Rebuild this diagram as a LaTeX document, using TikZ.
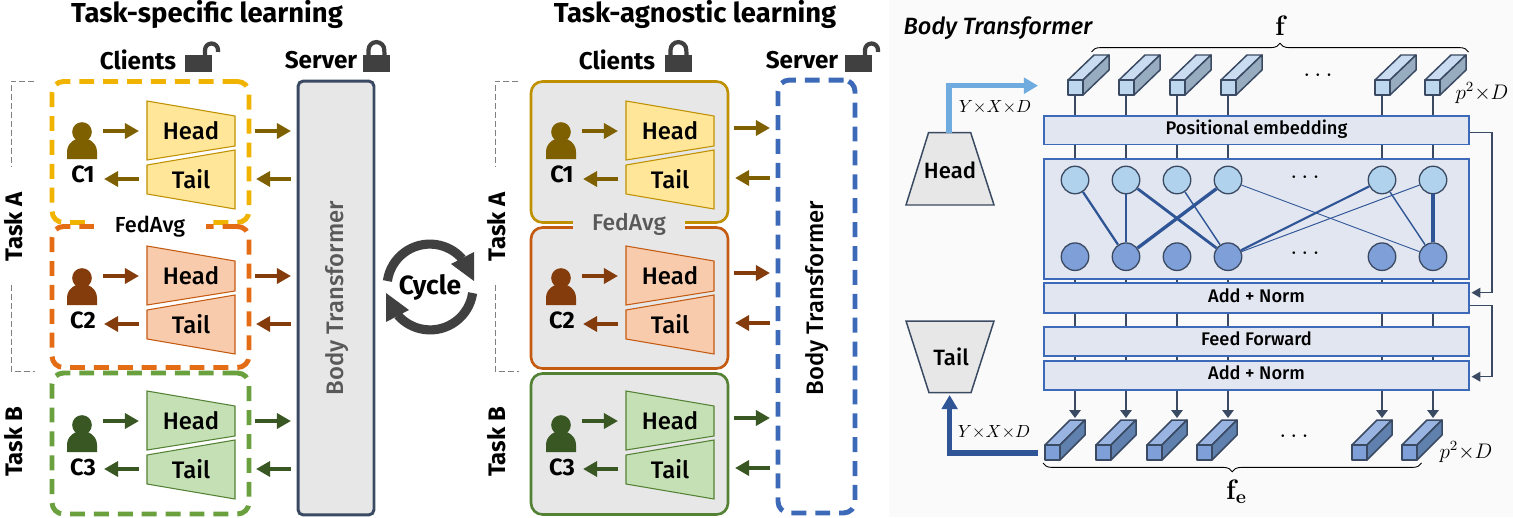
\documentclass[tikz,border=0pt]{standalone}
\usepackage{fontspec}
\setmainfont{Fira Sans Medium}[BoldFont=Fira Sans Bold,ItalicFont=Fira Sans Medium Italic,BoldItalicFont=Fira Sans Medium Italic]
\newfontfamily\serifbf{Latin Modern Roman}
\usetikzlibrary{arrows.meta,decorations.pathreplacing}

\definecolor{inkgray}{HTML}{404040}
\definecolor{slate}{HTML}{3B4A63}
\definecolor{boxgray}{HTML}{E7E7E7}
\definecolor{bandblue}{HTML}{E2E6F0}
\definecolor{lineblue}{HTML}{3C69B8}
\definecolor{edgeblue}{HTML}{2F5597}
\definecolor{arrowsky}{HTML}{70ABDF}
\definecolor{cubefront}{HTML}{BDD7EE}
\definecolor{cubetop}{HTML}{C9DCF0}
\definecolor{cubeside}{HTML}{97ACBF}
\definecolor{cellfront}{HTML}{7F9FD9}
\definecolor{celltop}{HTML}{9AB4E2}
\definecolor{cellside}{HTML}{6080AE}
\definecolor{neuronlite}{HTML}{B0D2EC}
\definecolor{liteA}{HTML}{FFE699}
\definecolor{edgeA}{HTML}{BF9000}
\definecolor{darkA}{HTML}{7F6000}
\definecolor{dashA}{HTML}{F0B400}
\definecolor{liteB}{HTML}{F8CBAD}
\definecolor{edgeB}{HTML}{C55A11}
\definecolor{darkB}{HTML}{843C0C}
\definecolor{dashB}{HTML}{E36C14}
\definecolor{liteC}{HTML}{C5E0B4}
\definecolor{edgeC}{HTML}{548235}
\definecolor{darkC}{HTML}{385723}
\definecolor{dashC}{HTML}{6AA03E}

\tikzset{
  clientbox/.style={minimum width=3.94cm,minimum height=2.82cm,rounded corners=6.5pt,inner sep=0pt},
  dashbox/.style={clientbox,line width=2.8pt,dash pattern=on 8.5pt off 5.1pt},
  solidbox/.style={clientbox,fill=boxgray,line width=1.5pt},
  flow/.style={line width=2.8pt,-{Triangle[width=8.5pt,length=8pt]}},
  trap/.style={line width=0.6pt},
  band/.style={draw=lineblue,fill=bandblue,line width=0.95pt,minimum width=8.5cm,inner sep=0pt,
    text height=6.5pt,text depth=1.5pt,font=\fontsize{10.4}{12}\selectfont},
  wire/.style={draw=slate,line width=0.85pt},
  tipwire/.style={wire,-{Triangle[width=6.5pt,length=4.5pt]}},
  sidewire/.style={wire,-{Triangle[width=5.5pt,length=5pt]}},
  cube/.style={draw=slate,line width=0.85pt,line join=round},
  neuron/.style={circle,draw=slate,line width=0.75pt,minimum size=0.55cm,inner sep=0pt},
  bracket/.style={draw=gray,line width=0.55pt,dash pattern=on 3.4pt off 1.7pt},
  lbl/.style={font=\fontsize{13.6}{15}\selectfont},
  title/.style={font=\fontsize{15.6}{17}\selectfont\bfseries},
  sub/.style={font=\fontsize{13.8}{15}\selectfont\bfseries},
  tasklbl/.style={font=\fontsize{13.6}{15}\selectfont\bfseries,rotate=90},
  dims/.style={font=\fontsize{10}{12}\selectfont},
  patchdims/.style={font=\fontsize{11.5}{13}\selectfont},
  dotrow/.style={font=\fontsize{14}{16}\selectfont},
  locked/.pic={
    \fill [inkgray] (0,0) rectangle (27,17);
    \draw [inkgray,line width=2.4pt] (5.5,1) -- (5.5,-5) arc[start angle=180,end angle=0,radius=4.5pt] -- (21.5,1);
  },
  unlocked/.pic={
    \fill [inkgray] (0,0) rectangle (27,17);
    \draw [inkgray,line width=2.4pt] (20,1) -- (20,-5) arc[start angle=180,end angle=0,radius=3.7pt] -- (33,-3);
  },
}

\begin{document}
\begin{tikzpicture}[x=0.02cm,y=-0.02cm]
  \useasboundingbox (0,0) rectangle (1513,517);
  \fill [white] (0,0) rectangle (1513,517);

  \node (titleL) [title] at (207,14) {Task-specific learning};
  \node (titleM) [title] at (695,14) {Task-agnostic learning};
  \node (clientsL) [sub] at (138,60) {Clients};
  \node (serverL)  [sub] at (321,60) {Server};
  \node (clientsM) [sub] at (617,60) {Clients};
  \node (serverM)  [sub] at (802,60) {Server};
  \pic at (185,55) {unlocked};
  \pic at (363,55) {locked};
  \pic at (665,55) {locked};
  \pic at (845,55) {unlocked};

  \node (taskAL) [tasklbl] at (14,227) {Task A};
  \node (taskBL) [tasklbl] at (14,442) {Task B};
  \node (taskAM) [tasklbl] at (497,227) {Task A};
  \node (taskBM) [tasklbl] at (497,442) {Task B};
  \foreach \bx in {11,495} {
    \draw [bracket] (\bx+23,81) -- (\bx,81) -- (\bx,167);
    \draw [bracket] (\bx,285) -- (\bx,371) -- (\bx+24,371);
  }

  \node (boxA) [dashbox,draw=dashA] at (150.5,152) {};
  \node (boxB) [dashbox,draw=dashB] at (150.5,297) {};
  \node (boxC) [dashbox,draw=dashC] at (150.5,443.5) {};
  \node (fedL) [fill=white,minimum width=2.24cm,minimum height=0.3cm,inner sep=0pt,font=\fontsize{12.4}{14}\selectfont] at (150,227) {FedAvg};
  \node (srvL) [draw=slate,fill=boxgray,line width=1.7pt,rounded corners=3pt,minimum width=1.52cm,minimum height=8.68cm,inner sep=0pt] at (336,298) {};
  \node (srvtextL) [lbl,rotate=90,text=black!65] at (337,298) {Body Transformer};

  \node (boxD) [solidbox,draw=edgeA] at (629.5,152) {};
  \node (boxE) [solidbox,draw=edgeB] at (629.5,298) {};
  \node (boxF) [solidbox,draw=edgeC] at (629.5,444) {};
  \node (fedM) [fill=boxgray,text=black!65,minimum width=2.24cm,minimum height=0.32cm,inner sep=0pt,font=\fontsize{13}{14}\selectfont] at (629,224.5) {FedAvg};
  \node (srvM) [draw=lineblue,line width=2.8pt,dash pattern=on 8.5pt off 5.1pt,rounded corners=6.5pt,minimum width=1.54cm,minimum height=8.66cm,inner sep=0pt] at (816.5,296.5) {};
  \node (srvtextM) [lbl,rotate=90] at (817,298) {Body Transformer};

  \foreach \n/\sx/\sy/\py/\sv/\lite/\edge/\dark/\tag in {
      a/0/0/0/0/liteA/edgeA/darkA/C1, b/0/145/1/0/liteB/edgeB/darkB/C2, c/0/290/3/0/liteC/edgeC/darkC/C3,
      d/479/0/0/-3/liteA/edgeA/darkA/C1, e/479/145/1/-3/liteB/edgeB/darkB/C2, f/479/290/3/-3/liteC/edgeC/darkC/C3} {
    \begin{scope}[shift={(\sx,\sy)}]
      \draw [trap,draw=\edge,fill=\lite] (147,101) -- (235,116) -- (235,146) -- (147,160) -- cycle;
      \draw [trap,draw=\edge,fill=\lite] (147,165) -- (235,150) -- (235,209) -- (147,194) -- cycle;
      \node (head\n) [lbl] at (191,131) {Head};
      \node (tail\n) [lbl] at (191,179) {Tail};
      \fill [\dark] (82,132+\py) circle[radius=5.6pt];
      \fill [\dark] (67,159+\py) -- (67,152+\py) .. controls (67,143+\py) and (75,138+\py) .. (82,138+\py)
        .. controls (89,138+\py) and (97,143+\py) .. (97,152+\py) -- (97,159+\py) -- cycle;
      \node (who\n) [font=\fontsize{13.4}{15}\selectfont\bfseries] at (83,174+\py) {\tag};
      \coordinate (pa\n) at (103,131);
      \coordinate (pb\n) at (139,131);
      \coordinate (qa\n) at (139,179);
      \coordinate (qb\n) at (104,179);
      \coordinate (ra\n) at (255,131+\sv);
      \coordinate (rb\n) at (291,131+\sv);
      \coordinate (sa\n) at (291,179+\sv/3);
      \coordinate (sb\n) at (256,179+\sv/3);
    \end{scope}
    \draw [flow,draw=\dark] (pa\n) -- (pb\n);
    \draw [flow,draw=\dark] (qa\n) -- (qb\n);
    \draw [flow,draw=\dark] (ra\n) -- (rb\n);
    \draw [flow,draw=\dark] (sa\n) -- (sb\n);
  }

  \node (cycle) [font=\fontsize{15}{17}\selectfont\bfseries] at (430,287) {Cycle};
  \draw [inkgray,line width=5.2pt] (472.6,293) arc[start angle=-8,end angle=-139,radius=24.4pt];
  \draw [inkgray,line width=5.2pt] (387.4,281) arc[start angle=172,end angle=41,radius=24.4pt];
  \fill [inkgray] (386,293) -- (386,322) -- (409,310) -- cycle;
  \fill [inkgray] (474,281) -- (474,252) -- (451,264) -- cycle;

  % body panel
  \fill [black!2] (889,0) rectangle (1513,517);
  \node (bodytitle) [font=\fontsize{13.4}{15}\selectfont\itshape] at (998,28) {Body Transformer};

  \draw [slate,line width=0.85pt,fill=boxgray] (928.5,132.7) -- (970.7,132.7) -- (994,205) -- (906,205) -- cycle;
  \draw [slate,line width=0.85pt,fill=boxgray] (906,321) -- (994,321) -- (971,392.7) -- (929,392.7) -- cycle;
  \node (headR) [font=\fontsize{12.6}{14}\selectfont] at (950,170) {Head};
  \node (tailR) [font=\fontsize{12.6}{14}\selectfont] at (951,357) {Tail};

  \node (pos)  [band,minimum height=0.57cm] at (1256.5,130.3) {Positional embedding};
  \node (net)  [band,minimum height=2.4cm,text height=,text depth=] at (1256.5,219) {};
  \node (add)  [band,minimum height=0.6cm] at (1256.5,297.7) {Add + Norm};
  \node (ffn)  [band,minimum height=0.58cm] at (1256.5,341.3) {Feed Forward};
  \node (addb) [band,minimum height=0.58cm] at (1256.5,375.3) {Add + Norm};

  \foreach \i/\x/\u in {1/1075/1068,2/1126/1119,3/1177/1170,4/1228/1221,5/1382/1375,6/1433/1425} {
    \draw [cube,fill=cubetop] (\u,80) -- ++(26,-25) -- ++(15,0) -- ++(-26,25) -- cycle;
    \draw [cube,fill=cubeside] (\u+15,80) -- ++(26,-25) -- ++(0,15) -- ++(-26,25) -- cycle;
    \draw [cube,fill=cubefront] (\u,80) rectangle ++(15,15);
    \coordinate (ct\i) at (\x,95);
    \draw [wire] (ct\i) -- (ct\i |- pos.north);
    \draw [wire] (ct\i |- pos.south) -- (ct\i |- net.north);
    \draw [wire] (ct\i |- net.south) -- (ct\i |- add.north);
    \draw [wire] (ct\i |- add.south) -- (ct\i |- ffn.north);
    \draw [wire] (ct\i |- ffn.south) -- (ct\i |- addb.north);
    \coordinate (cb\i) at (\x,418);
    \draw [tipwire] (ct\i |- addb.south) -- (cb\i);
    \node (t\i) [neuron,fill=neuronlite] at (\x,180) {};
    \node (b\i) [neuron,fill=cellfront] at (\x,256.7) {};
  }
  \foreach \u in {1045,1096,1147,1197,1352,1402} {
    \draw [cube,fill=celltop] (\u,445) -- ++(25,-25) -- ++(15,0) -- ++(-25,25) -- cycle;
    \draw [cube,fill=cellside] (\u+15,445) -- ++(25,-25) -- ++(0,15) -- ++(-25,25) -- cycle;
    \draw [cube,fill=cellfront] (\u,445) rectangle ++(15,15);
  }

  \node (dotsT) [dotrow] at (1318,76) {$\cdots$};
  \node (dotsA) [dotrow] at (1305,178) {$\cdots$};
  \node (dotsB) [dotrow] at (1305,254) {$\cdots$};
  \node (dotsE) [dotrow] at (1294,437) {$\cdots$};

  \draw [edgeblue,line width=1.3pt] (t1) -- (b2);
  \draw [edgeblue,line width=0.7pt] (t2) -- (b2);
  \draw [edgeblue,line width=1.6pt] (t2) -- (b4);
  \draw [edgeblue,line width=0.8pt] (t3) -- (b4);
  \draw [edgeblue,line width=1.9pt] (t4) -- (b2);
  \draw [edgeblue,line width=0.5pt] (t4) -- (b6);
  \draw [edgeblue,line width=1.2pt] (t5) -- (b4);
  \draw [edgeblue,line width=0.55pt] (t6) -- (b4);
  \draw [edgeblue,line width=0.8pt] (t5) -- (b6);
  \draw [edgeblue,line width=2.3pt] (t6) -- (b6);

  \coordinate (hookA) at (1471.5,292.7);
  \coordinate (hookB) at (1471.5,376.7);
  \draw [sidewire] (pos.east |- 0,132.7) -- (1492,132.7) -- (1492,292.7) -- (hookA);
  \draw [sidewire] (add.east |- 0,305.7) -- (1492,305.7) -- (1492,376.7) -- (hookB);

  \coordinate (headtop) at (949,132.7);
  \coordinate (headend) at (1038,85.7);
  \coordinate (tailtip) at (949.6,395);
  \coordinate (tailend) at (1038,453);
  \draw [arrowsky,line width=2.9pt,-{Triangle[width=8.8pt,length=8pt]}] (headtop) |- (headend);
  \draw [edgeblue,line width=2.9pt,-{Triangle[width=8.8pt,length=8pt]}] (tailend) -| (tailtip);

  \node (shapeT) [dims] at (995,107) {$Y{\times}X{\times}D$};
  \node (shapeB) [dims] at (994,432) {$Y{\times}X{\times}D$};
  \node (patchT) [patchdims] at (1482,92.7) {$p^2{\times}D$};
  \node (patchB) [patchdims] at (1466,451.7) {$p^2{\times}D$};

  \coordinate (braceTa) at (1091.5,52);
  \coordinate (braceTb) at (1468.5,52);
  \coordinate (braceBa) at (1043,463);
  \coordinate (braceBb) at (1421.5,463);
  \draw [decorate,decoration={brace,amplitude=5pt},line width=0.5pt] (braceTa) -- (braceTb);
  \draw [decorate,decoration={brace,mirror,amplitude=5pt},line width=0.5pt] (braceBa) -- (braceBb);
  \node (fT) [font=\fontsize{16}{18}\selectfont\serifbf\bfseries] at (1280,26) {f};
  \node (fB) [font=\fontsize{16}{18}\selectfont\serifbf\bfseries] at (1236,492) {f\raisebox{-2.5pt}{\fontsize{11}{12}\selectfont e}};
\end{tikzpicture}
\end{document}
